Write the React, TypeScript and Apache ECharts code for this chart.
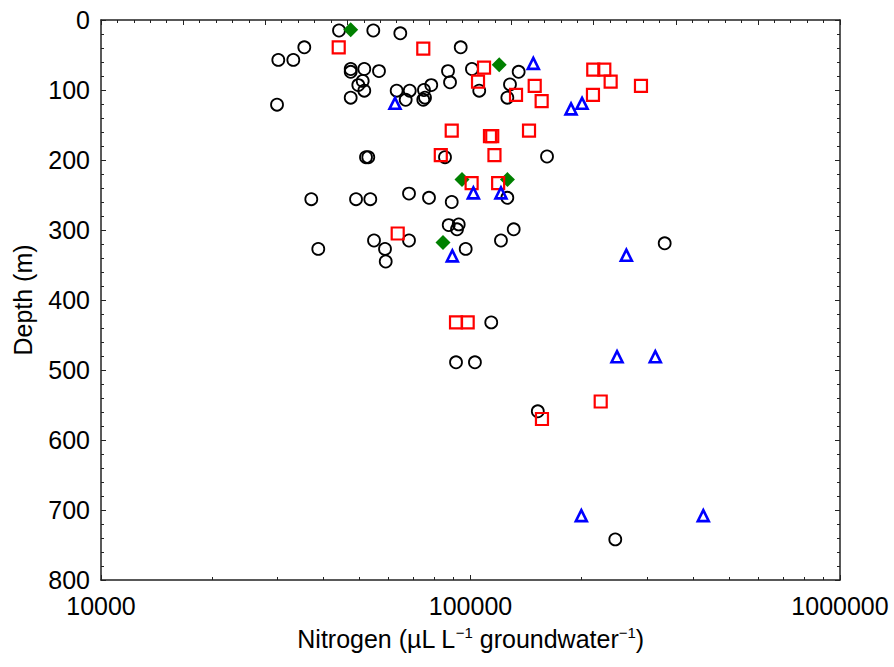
import React, { useEffect, useRef } from "react";
import * as echarts from "echarts";

// Nitrogen (µL/L), Depth (m)
const circleN = [44070, 54570, 64570, 35500, 30190, 33150, 94080, 47400, 47400, 51590, 56540, 51080, 49700, 51590, 47400, 29950, 63120, 68470, 66770, 74830, 78310, 75310, 74510, 86920, 88020, 100900, 105600, 135000, 127900, 125800, 52890, 52140, 85310, 161100, 37080, 49000, 53560, 68170, 77210, 88960, 125800, 87300, 92920, 91940, 130900, 120900, 54810, 68170, 58700, 58960, 38730, 97050, 335400, 113800, 91370, 102800, 152100, 246500];
const circleD = [15, 15, 19, 39, 57, 57, 39, 70, 74, 70, 73, 87, 93, 101, 111, 121, 101, 101, 114, 100, 93, 111, 114, 73, 89, 70, 101, 74, 92, 111, 196, 196, 196, 195, 256, 256, 256, 248, 254, 260, 254, 293, 292, 299, 299, 315, 315, 315, 327, 345, 327, 327, 319, 432, 489, 489, 559, 742];

const squareN = [43990, 74510, 108800, 104800, 132800, 149200, 155800, 214900, 230200, 239500, 214500, 289300, 144000, 88960, 114500, 112900, 83100, 116100, 100700, 118800, 63530, 91370, 98260, 225100, 156100];
const squareD = [39, 41, 68, 88, 107, 94, 116, 71, 71, 88, 107, 94, 158, 158, 166, 166, 193, 193, 233, 233, 305, 432, 432, 545, 570];

const triangleN = [147900, 62470, 187100, 200400, 101800, 120900, 89290, 264100, 249200, 316300, 199500, 426600];
const triangleD = [62, 119, 127, 119, 247, 247, 337, 336, 481, 481, 708, 708];

const diamondN = [47400, 119600, 94840, 125900, 84250];
const diamondD = [14, 64, 228, 228, 318];

const xTicks = [10000, 100000, 1000000];

const pair = (xs: number[], ys: number[]) => xs.map((x, i) => [x, ys[i]]);

const FONT = "'Liberation Sans', Arial, Helvetica, sans-serif";

export default function App() {
  const ref = useRef<HTMLDivElement>(null);
  useEffect(() => {
    if (!ref.current) return;
    const chart = echarts.init(ref.current, null, { renderer: "svg" });
    const lineStyle = { color: "#222", width: 1.5 };
    const tickStyle = { color: "#222", width: 1 };
    chart.setOption({
      animation: false,
      backgroundColor: "#fff",
      textStyle: { fontFamily: FONT },
      grid: { left: 101, right: 54, top: 20, bottom: 87, containLabel: false },
      xAxis: [
        {
          type: "log",
          logBase: 10,
          min: xTicks[0],
          max: xTicks[xTicks.length - 1],
          position: "bottom",
          axisLine: { show: true, onZero: false, lineStyle },
          axisTick: { show: true, inside: true, length: 5, lineStyle: tickStyle },
          minorTick: { show: true, splitNumber: 9, length: 3, lineStyle: tickStyle },
          splitLine: { show: false },
          minorSplitLine: { show: false },
          axisLabel: {
            fontSize: 25,
            lineHeight: 20,
            color: "#000",
            fontFamily: FONT,
            margin: 16,
            formatter: (v: number) => String(Math.round(v)),
          },
          name: "Nitrogen (µL L{sup|−1} groundwater{sup|−1})",
          nameLocation: "middle",
          nameGap: 45,
          nameTextStyle: {
            fontSize: 25,
            color: "#000",
            fontFamily: FONT,
            rich: {
              sup: { fontSize: 15, verticalAlign: "top", color: "#000", fontFamily: FONT, padding: [0, 0, 12, 0] },
            },
          },
        },
        {
          type: "value",
          min: 0,
          max: 9,
          interval: 1,
          position: "top",
          axisLine: { show: true, onZero: false, lineStyle },
          axisTick: { show: true, inside: true, length: 5, lineStyle: tickStyle },
          minorTick: { show: true, splitNumber: 5, length: 3, lineStyle: tickStyle },
          splitLine: { show: false },
          axisLabel: { show: false },
        },
      ],
      yAxis: [
        {
          type: "value",
          inverse: true,
          min: 0,
          max: 800,
          interval: 100,
          position: "left",
          axisLine: { show: true, onZero: false, lineStyle },
          axisTick: { show: true, inside: true, length: 5, lineStyle: tickStyle },
          minorTick: { show: true, splitNumber: 5, length: 3, lineStyle: tickStyle },
          splitLine: { show: false },
          axisLabel: { fontSize: 25, lineHeight: 20, color: "#000", fontFamily: FONT, margin: 11 },
          name: "Depth (m)",
          nameLocation: "middle",
          nameGap: 66,
          nameTextStyle: { fontSize: 25, color: "#000", fontFamily: FONT },
        },
        {
          type: "value",
          inverse: true,
          min: 0,
          max: 800,
          interval: 100,
          position: "right",
          axisLine: { show: true, onZero: false, lineStyle },
          axisTick: { show: true, inside: true, length: 5, lineStyle: tickStyle },
          minorTick: { show: true, splitNumber: 5, length: 3, lineStyle: tickStyle },
          splitLine: { show: false },
          axisLabel: { show: false },
        },
      ],
      series: [
        {
          type: "scatter",
          xAxisIndex: 0,
          yAxisIndex: 0,
          data: pair(circleN, circleD),
          symbol: "circle",
          symbolSize: 12,
          itemStyle: { color: "rgba(0,0,0,0)", borderColor: "#000", borderWidth: 1.8, opacity: 1 },
        },
        {
          type: "scatter",
          xAxisIndex: 0,
          yAxisIndex: 0,
          data: pair(diamondN, diamondD),
          symbol: "diamond",
          symbolSize: 15,
          itemStyle: { color: "#008000", opacity: 1 },
        },
        {
          type: "scatter",
          xAxisIndex: 0,
          yAxisIndex: 0,
          data: pair(squareN, squareD),
          symbol: "rect",
          symbolSize: 12,
          itemStyle: { color: "rgba(0,0,0,0)", borderColor: "#ff0000", borderWidth: 2.2, opacity: 1 },
        },
        {
          type: "scatter",
          xAxisIndex: 0,
          yAxisIndex: 0,
          data: pair(triangleN, triangleD),
          symbol: "triangle",
          symbolSize: 11,
          itemStyle: { color: "rgba(0,0,0,0)", borderColor: "#0000ff", borderWidth: 2.6, opacity: 1 },
        },
      ],
    });
    return () => chart.dispose();
  }, []);
  return (
    <div
      ref={ref}
      style={{ position: "fixed", left: 0, top: 0, width: 894, height: 667, background: "#fff" }}
    />
  );
}
